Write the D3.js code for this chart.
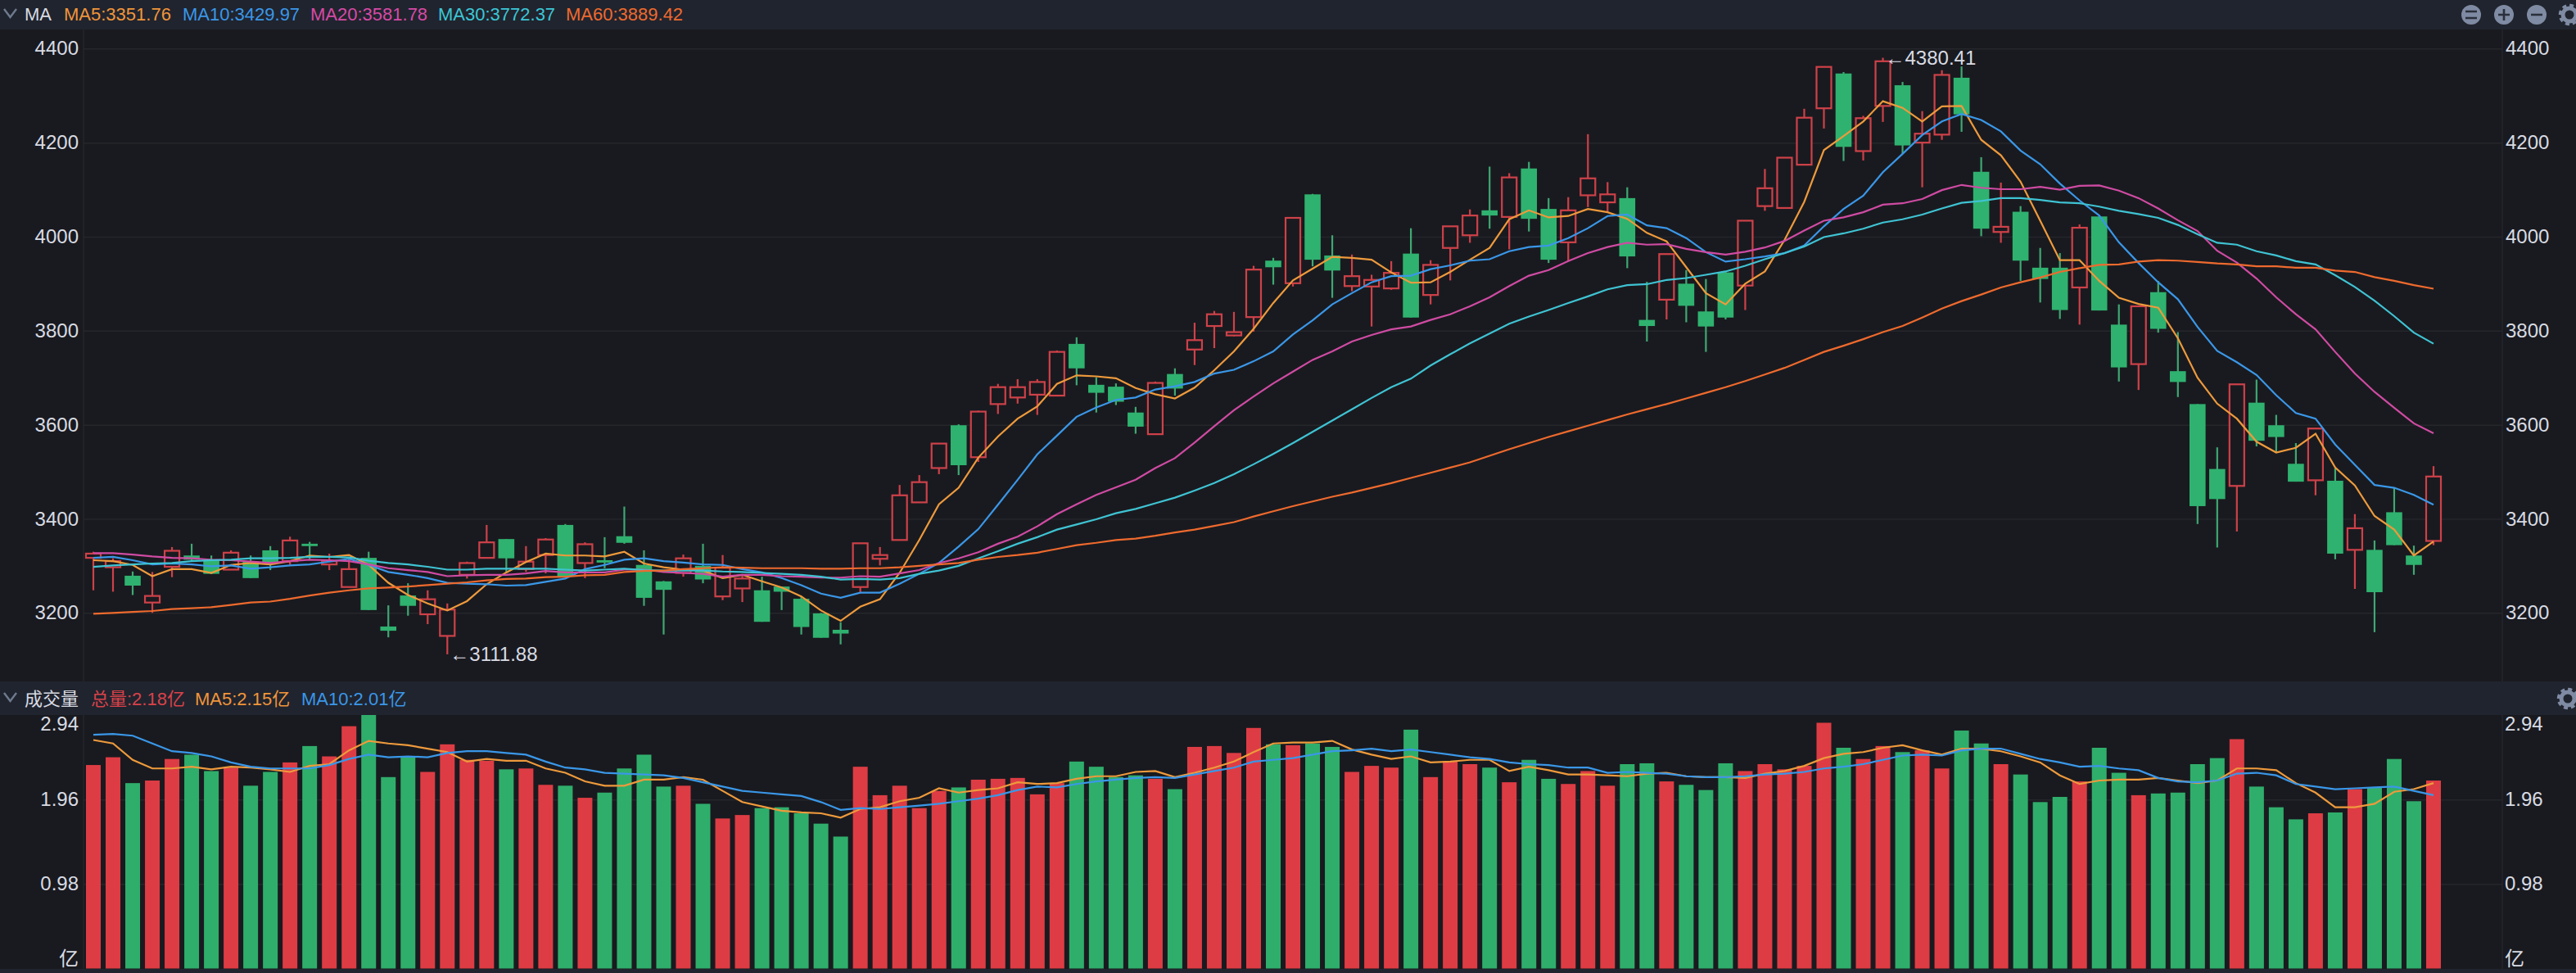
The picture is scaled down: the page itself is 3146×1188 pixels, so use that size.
<!DOCTYPE html>
<html><head><meta charset="utf-8">
<script src="https://cdn.jsdelivr.net/npm/d3@7/dist/d3.min.js"></script>
<style>html,body{margin:0;padding:0;background:#191a1f;overflow:hidden}svg{display:block}text{font-family:"Liberation Sans",Arial,sans-serif}.cjk{font-family:"Liberation Sans","Noto Sans CJK SC",sans-serif}</style>
</head><body><svg id="c" width="3146" height="1188"></svg>
<script>
const open=[3317,3297,3279,3222,3298,3322,3312,3292,3309,3333,3310,3347,3303,3255,3317,3171,3237,3197,3151,3281,3317,3357,3293,3323,3387,3306,3312,3363,3302,3267,3285,3300,3235,3252,3248,3256,3230,3199,3164,3255,3315,3355,3435,3508,3599,3531,3644,3658,3664,3662,3772,3685,3681,3626,3580,3708,3760,3810,3790,3829,3949,3901,4090,3960,3895,3894,3890,3964,3876,3976,4003,4056,4042,4145,4059,3988,4088,4073,4082,3823,3866,3900,3841,3924,3896,4065,4061,4153,4273,4347,4182,4278,4322,4200,4217,4338,4138,4010,4053,3934,3934,3892,4043,3813,3729,3882,3714,3644,3506,3470,3647,3599,3517,3482,3481,3334,3334,3414,3322,3353];
const close=[3326,3310,3258,3236,3332,3313,3283,3328,3274,3306,3354,3342,3310,3293,3206,3162,3215,3229,3207,3306,3350,3316,3309,3356,3277,3346,3307,3349,3232,3249,3316,3271,3296,3273,3181,3245,3170,3147,3156,3348,3323,3450,3478,3560,3514,3628,3680,3680,3691,3755,3720,3668,3649,3596,3689,3677,3780,3835,3797,3930,3935,4040,3951,3928,3916,3908,3923,3828,3940,4022,4045,4045,4126,4038,3951,4056,4124,4090,3958,3810,3963,3853,3809,3828,4034,4103,4168,4253,4361,4191,4252,4373,4194,4219,4344,4260,4017,4021,3949,3910,3844,4019,3843,3722,3852,3804,3691,3427,3442,3686,3566,3574,3479,3592,3326,3380,3244,3344,3302,3490];
const high=[3330,3316,3288,3287,3340,3347,3322,3333,3322,3342,3362,3351,3326,3316,3330,3216,3263,3248,3220,3309,3387,3357,3342,3359,3389,3350,3361,3426,3333,3268,3324,3347,3323,3281,3277,3256,3235,3200,3180,3348,3340,3472,3493,3560,3601,3630,3687,3697,3697,3758,3786,3701,3688,3638,3692,3720,3817,3842,3840,3938,3955,4041,4091,4003,3962,3919,3948,4018,3950,4022,4058,4149,4135,4159,4082,4084,4218,4116,4105,3904,3963,3929,3910,3926,4034,4144,4168,4272,4361,4350,4257,4380.41,4329,4267,4354,4362,4169,4115,4065,3976,3965,4026,4043,3856,3852,3906,3797,3644,3552,3686,3696,3621,3561,3592,3508,3410,3354,3466,3343,3512];
const low=[3248,3245,3238,3200,3276,3310,3283,3292,3274,3291,3302,3312,3291,3255,3206,3148,3194,3176,3111.88,3273,3317,3287,3287,3284,3277,3274,3295,3347,3215,3154,3277,3263,3227,3223,3181,3206,3154,3147,3133,3242,3301,3355,3435,3495,3493,3521,3623,3645,3621,3662,3684,3626,3642,3581,3580,3662,3727,3763,3788,3798,3898,3894,3937,3870,3884,3809,3887,3828,3856,3907,3987,4017,3973,4011,3944,3949,4063,4054,3933,3777,3824,3818,3755,3824,3844,4055,4061,4153,4230,4161,4162,4244,4177,4105,4206,4223,4001,3987,3906,3860,3825,3813,3843,3692,3674,3796,3659,3389,3339,3373,3554,3541,3479,3450,3314,3251,3159,3344,3281,3344];
const ma5=[3312,3310,3302,3278,3293,3293,3285,3302,3306,3303,3310,3322,3319,3323,3302,3264,3238,3220,3205,3225,3261,3286,3308,3326,3322,3322,3320,3330,3305,3297,3292,3290,3274,3281,3267,3254,3235,3205,3183,3213,3229,3285,3355,3431,3466,3530,3575,3613,3639,3687,3705,3703,3699,3678,3665,3656,3679,3716,3756,3804,3859,3907,3932,3957,3955,3951,3924,3902,3903,3925,3951,3976,4037,4056,4041,4044,4059,4052,4038,4008,3990,3935,3880,3856,3900,3926,3993,4074,4184,4214,4245,4288,4274,4245,4277,4278,4206,4173,4117,4034,3950,3950,3906,3870,3857,3849,3784,3700,3645,3613,3564,3541,3551,3581,3509,3471,3406,3377,3322,3351.76];
const ma10=[3317,3319,3312,3303,3305,3303,3299,3301,3294,3297,3301,3303,3309,3315,3302,3287,3281,3274,3264,3262,3261,3258,3259,3266,3273,3293,3302,3313,3316,3310,3307,3303,3302,3293,3286,3274,3259,3241,3232,3243,3243,3262,3283,3306,3341,3378,3430,3483,3537,3577,3617,3637,3653,3658,3675,3682,3691,3709,3717,3735,3756,3792,3822,3856,3880,3903,3916,3917,3931,3939,3949,3952,3969,3978,3981,3997,4018,4044,4047,4024,4018,3997,3967,3947,3952,3958,3965,3981,4022,4059,4087,4137,4176,4216,4245,4261,4248,4224,4183,4154,4113,4077,4045,3988,3944,3903,3867,3808,3757,3733,3706,3663,3625,3613,3558,3515,3472,3466,3451,3429.97];
const ma20=[3327,3327,3324,3320,3317,3316,3313,3312,3309,3306,3310,3313,3312,3310,3303,3295,3291,3287,3278,3280,3281,3281,3284,3289,3286,3286,3286,3292,3292,3287,3285,3283,3277,3281,3281,3278,3277,3275,3275,3278,3277,3284,3291,3306,3316,3329,3347,3362,3384,3410,3431,3451,3467,3483,3508,3529,3562,3597,3631,3660,3688,3713,3738,3756,3777,3791,3803,3809,3823,3835,3852,3871,3895,3917,3929,3948,3965,3978,3987,3983,3984,3974,3967,3962,3968,3977,3991,4013,4034,4041,4052,4068,4071,4080,4099,4110,4104,4101,4101,4106,4100,4108,4109,4098,4082,4060,4035,4012,3970,3945,3911,3871,3835,3803,3755,3709,3670,3636,3603,3581.78];
const ma30=[3298,3301,3303,3305,3306,3310,3312,3313,3316,3316,3317,3319,3319,3318,3311,3306,3303,3298,3292,3292,3294,3294,3294,3294,3292,3290,3292,3294,3291,3290,3290,3290,3288,3287,3285,3283,3281,3277,3271,3272,3271,3274,3283,3290,3300,3316,3331,3347,3361,3377,3388,3399,3412,3421,3433,3445,3460,3476,3495,3516,3538,3561,3585,3609,3633,3657,3680,3698,3726,3750,3773,3794,3815,3830,3844,3859,3873,3888,3897,3899,3908,3912,3919,3926,3938,3952,3965,3979,3999,4007,4017,4030,4037,4047,4060,4072,4076,4082,4082,4078,4073,4071,4064,4055,4048,4040,4025,4005,3987,3983,3969,3960,3948,3941,3918,3893,3864,3831,3796,3772.37];
const ma60=[3198,3200,3202,3204,3208,3210,3212,3217,3222,3224,3230,3237,3243,3248,3252,3254,3256,3259,3262,3265,3269,3272,3273,3276,3277,3280,3281,3287,3289,3290,3293,3295,3297,3296,3295,3295,3295,3294,3294,3295,3295,3297,3300,3303,3306,3313,3319,3323,3328,3336,3344,3349,3355,3358,3364,3371,3377,3385,3393,3405,3416,3427,3437,3447,3456,3466,3476,3487,3498,3509,3520,3534,3548,3561,3574,3586,3598,3610,3622,3633,3644,3656,3668,3680,3693,3707,3721,3738,3755,3768,3782,3797,3810,3828,3847,3863,3877,3892,3903,3913,3925,3933,3940,3941,3947,3950,3949,3946,3943,3941,3937,3937,3934,3934,3928,3925,3914,3906,3897,3889.42];
const volume=[2.36,2.45,2.15,2.18,2.43,2.48,2.29,2.33,2.12,2.28,2.39,2.58,2.46,2.81,2.94,2.22,2.45,2.28,2.60,2.42,2.41,2.31,2.32,2.13,2.12,1.98,2.04,2.32,2.48,2.11,2.12,1.91,1.74,1.78,1.86,1.87,1.80,1.68,1.53,2.34,2.01,2.12,1.86,2.06,2.10,2.19,2.20,2.21,2.02,2.15,2.40,2.34,2.22,2.24,2.20,2.08,2.57,2.58,2.50,2.79,2.60,2.59,2.61,2.57,2.28,2.35,2.33,2.77,2.22,2.40,2.37,2.33,2.16,2.42,2.20,2.14,2.29,2.12,2.37,2.38,2.17,2.13,2.07,2.38,2.29,2.37,2.31,2.35,2.85,2.56,2.43,2.58,2.51,2.53,2.32,2.76,2.61,2.37,2.25,1.93,1.99,2.17,2.56,2.27,2.01,2.03,2.04,2.37,2.44,2.66,2.11,1.87,1.73,1.80,1.81,2.08,2.10,2.43,1.94,2.18];
const volMa5=[2.65,2.61,2.42,2.32,2.32,2.34,2.31,2.34,2.33,2.31,2.28,2.35,2.37,2.53,2.64,2.61,2.59,2.55,2.51,2.40,2.43,2.41,2.41,2.32,2.27,2.17,2.12,2.12,2.19,2.19,2.22,2.19,2.06,1.93,1.88,1.83,1.81,1.80,1.75,1.85,1.87,1.94,1.98,2.09,2.04,2.07,2.09,2.16,2.14,2.15,2.20,2.23,2.23,2.28,2.29,2.22,2.27,2.33,2.40,2.51,2.61,2.62,2.62,2.64,2.54,2.48,2.43,2.46,2.39,2.40,2.42,2.42,2.29,2.34,2.30,2.25,2.25,2.24,2.23,2.26,2.27,2.23,2.22,2.22,2.21,2.26,2.29,2.35,2.44,2.49,2.51,2.56,2.59,2.53,2.48,2.55,2.55,2.52,2.46,2.39,2.24,2.14,2.18,2.19,2.19,2.21,2.18,2.15,2.18,2.32,2.32,2.30,2.15,2.04,1.87,1.87,1.91,2.05,2.08,2.15];
const volMa10=[2.71,2.72,2.70,2.61,2.52,2.50,2.46,2.39,2.34,2.32,2.32,2.32,2.36,2.43,2.48,2.45,2.46,2.45,2.50,2.52,2.52,2.50,2.48,2.40,2.33,2.31,2.27,2.26,2.25,2.24,2.21,2.16,2.11,2.06,2.04,2.02,2.00,1.93,1.84,1.86,1.85,1.87,1.89,1.91,1.94,1.97,2.01,2.07,2.11,2.10,2.14,2.17,2.19,2.21,2.22,2.21,2.25,2.29,2.33,2.40,2.42,2.44,2.48,2.52,2.53,2.55,2.52,2.54,2.51,2.48,2.45,2.43,2.39,2.37,2.36,2.33,2.33,2.27,2.28,2.27,2.26,2.23,2.22,2.22,2.23,2.25,2.26,2.28,2.32,2.34,2.37,2.42,2.47,2.48,2.47,2.53,2.55,2.55,2.49,2.43,2.39,2.34,2.35,2.32,2.30,2.21,2.17,2.16,2.18,2.26,2.27,2.24,2.14,2.11,2.08,2.09,2.10,2.11,2.06,2.01];
const priceTicks=[3200,3400,3600,3800,4000,4200,4400];
const volTicks=[0,0.98,1.96,2.94];
const priceLegend=[["MA5:3351.76",78,"#f0953a"],["MA10:3429.97",223,"#3a97e8"],["MA20:3581.78",379,"#d64aa6"],["MA30:3772.37",535,"#3cc6d6"],["MA60:3889.42",691,"#ee6a2e"]];
const volLegend=[["总量:2.18亿",111,"#d9424a"],["MA5:2.15亿",238,"#f0953a"],["MA10:2.01亿",368,"#3a97e8"]];

const BG="#191a1f",HEAD="#20242e",GRID="#25262b",TXT="#d8dbe3",RED="#ce4149",GREEN="#2fb26f",RBAR="#de3c44",GBAR="#2fae6b",ICON="#7f8ba3";
const L=102,R=3056;
const svg=d3.select("#c");
const x=d3.scaleLinear().domain([0,119]).range([114,2972]);
const y=d3.scaleLinear().domain([3200,4400]).range([748.3,59.3]);
const v=d3.scaleLinear().domain([0,2.94]).range([1182.5,873]);
const idx=d3.range(open.length);
svg.append("rect").attr("width",3146).attr("height",1188).attr("fill",BG);
[[0,36],[832,41],[1183,5]].forEach(b=>svg.append("rect").attr("x",0).attr("y",b[0]).attr("width",3146).attr("height",b[1]).attr("fill",HEAD));
[L,R].forEach(p=>{svg.append("line").attr("x1",p).attr("x2",p).attr("y1",36).attr("y2",832).attr("stroke",GRID).attr("stroke-width",1.5);
svg.append("line").attr("x1",p).attr("x2",p).attr("y1",873).attr("y2",1183).attr("stroke",GRID).attr("stroke-width",1.5);});
const grid=(sel,ticks,sc)=>{const g=sel.append("g").attr("transform",`translate(${L},0)`).call(d3.axisLeft(sc).tickValues(ticks).tickSize(-(R-L)).tickFormat(""));
 g.select(".domain").remove();g.selectAll("line").attr("stroke",GRID).attr("stroke-width",1.5);};
grid(svg,priceTicks,y);grid(svg,volTicks.slice(1,3),v);
const styleAxis=(g)=>{g.select(".domain").remove();g.selectAll("line").remove();g.selectAll("text").attr("fill",TXT).style("font-size","24px");};
const pf=d3.format("d");
svg.append("g").attr("transform",`translate(${L},0)`).call(d3.axisLeft(y).tickValues(priceTicks).tickFormat(pf).tickSize(0).tickPadding(6)).call(styleAxis);
svg.append("g").attr("transform",`translate(${R},0)`).call(d3.axisRight(y).tickValues(priceTicks).tickFormat(pf).tickSize(0).tickPadding(4)).call(styleAxis);
const vf=t=>t===0?"亿":d3.format(".2f")(t);
const fixVol=g=>{styleAxis(g);g.selectAll("g.tick").attr("transform",t=>`translate(0,${v(t)+(t===0?-11:t===2.94?11:0)})`);g.selectAll("text").attr("class","cjk");};
svg.append("g").attr("transform",`translate(${L},0)`).call(d3.axisLeft(v).tickValues(volTicks).tickFormat(vf).tickSize(0).tickPadding(6)).call(fixVol);
svg.append("g").attr("transform",`translate(${R},0)`).call(d3.axisRight(v).tickValues(volTicks).tickFormat(vf).tickSize(0).tickPadding(3)).call(fixVol);
const isUp=i=>close[i]>=open[i];
const cg=svg.append("g");
cg.selectAll("line.w").data(idx).join("line").attr("class","w").attr("x1",x).attr("x2",x)
 .attr("y1",i=>y(high[i])).attr("y2",i=>y(low[i])).attr("stroke",i=>isUp(i)?RED:"#3fa873").attr("stroke-width",2.2);
cg.selectAll("rect.b").data(idx).join("rect").attr("class","b")
 .attr("x",i=>x(i)-(isUp(i)?9:9.8)).attr("width",i=>isUp(i)?18:19.6)
 .attr("y",i=>y(Math.max(open[i],close[i]))).attr("height",i=>Math.max(1,Math.abs(y(open[i])-y(close[i]))))
 .attr("fill",i=>isUp(i)?BG:GREEN).attr("stroke",i=>isUp(i)?RED:"none").attr("stroke-width",2.2);
const ln=(sc)=>d3.line().x((d,i)=>x(i)).y(d=>sc(d));
[[ma5,"#ee9a3c"],[ma10,"#3a97e8"],[ma20,"#cf4ba3"],[ma30,"#3fc3d3"],[ma60,"#ee6a2e"]].forEach(s=>
 svg.append("path").datum(s[0]).attr("d",ln(y)).attr("fill","none").attr("stroke",s[1]).attr("stroke-width",2.2));
const maxI=d3.maxIndex(high),minI=d3.minIndex(low);
[[maxI,high[maxI]],[minI,low[minI]]].forEach(a=>svg.append("text").attr("x",x(a[0])+3).attr("y",y(a[1])).attr("dy","0.35em")
 .attr("fill",TXT).style("font-size","24px").text("←"+a[1].toFixed(2)));
svg.append("g").selectAll("rect").data(idx).join("rect").attr("x",i=>x(i)-9).attr("width",18)
 .attr("y",i=>v(volume[i])).attr("height",i=>v(0)-v(volume[i])).attr("fill",i=>isUp(i)?RBAR:GBAR);
[[volMa5,"#ee9a3c"],[volMa10,"#3a97e8"]].forEach(s=>svg.append("path").datum(s[0]).attr("d",ln(v)).attr("fill","none").attr("stroke",s[1]).attr("stroke-width",2.2));
svg.append("text").attr("x",30).attr("y",25).attr("fill",TXT).style("font-size","22px").text("MA");
priceLegend.forEach(d=>svg.append("text").attr("x",d[1]).attr("y",25).attr("fill",d[2]).style("font-size","22px").text(d[0]));
svg.append("text").attr("class","cjk").attr("x",30).attr("y",861).attr("fill",TXT).style("font-size","22px").text("成交量");
volLegend.forEach(d=>svg.append("text").attr("class","cjk").attr("x",d[1]).attr("y",861).attr("fill",d[2]).style("font-size","22px").text(d[0]));
[17,852].forEach(cy=>svg.append("path").attr("d",`M5 ${cy-6}L12.5 ${cy+4}L20 ${cy-6}`).attr("fill","none").attr("stroke","#6f7a8e").attr("stroke-width",2.4));
[3018,3058,3098].forEach((cx,k)=>{svg.append("circle").attr("cx",cx).attr("cy",18).attr("r",12).attr("fill",ICON);
 const sym=k===0?`M${cx-7} 14H${cx+7}M${cx-7} 22H${cx+7}`:k===1?`M${cx-7} 18H${cx+7}M${cx} 11V25`:`M${cx-7} 18H${cx+7}`;
 svg.append("path").attr("d",sym).attr("stroke","#2a2f3b").attr("stroke-width",2.6).attr("fill","none");});
[[3138,18],[3136,853]].forEach(p=>{const g=svg.append("g");
 g.append("circle").attr("cx",p[0]).attr("cy",p[1]).attr("r",8).attr("fill","none").attr("stroke",ICON).attr("stroke-width",5);
 g.append("circle").attr("cx",p[0]).attr("cy",p[1]).attr("r",11.5).attr("fill","none").attr("stroke",ICON).attr("stroke-width",3.5).attr("stroke-dasharray","5 4");});
</script></body></html>
